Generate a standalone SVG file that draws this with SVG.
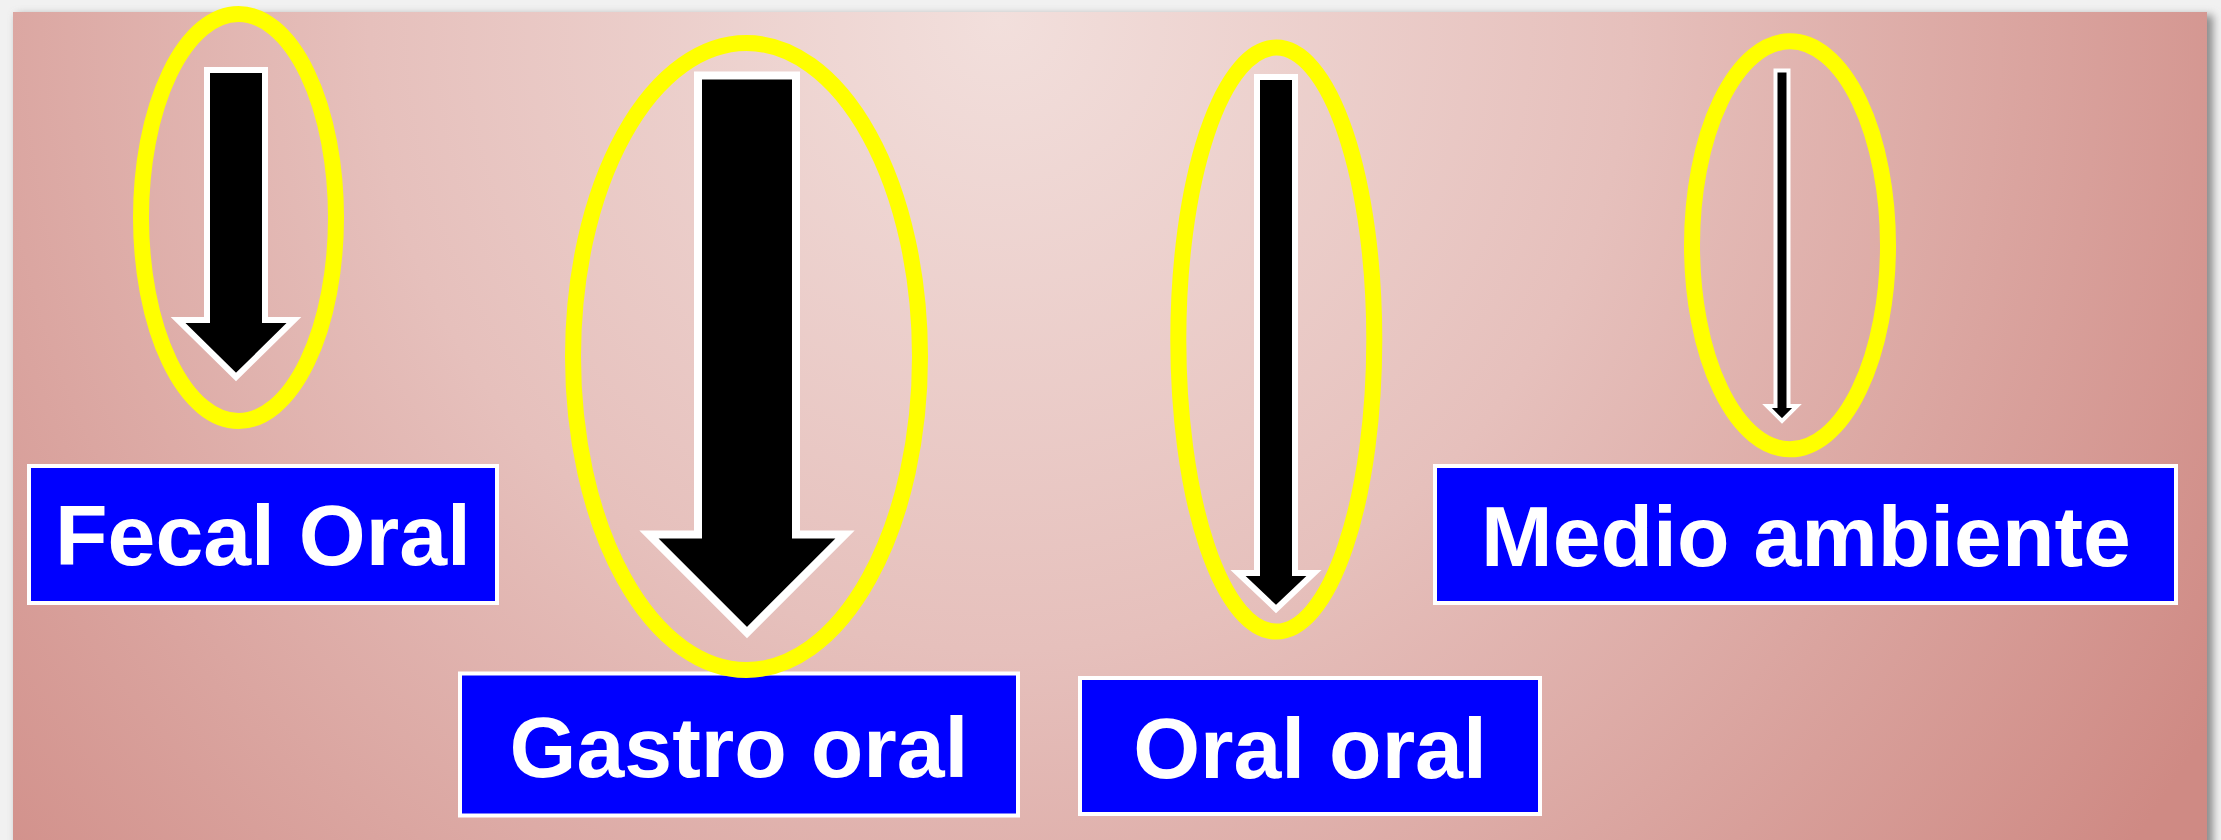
<svg xmlns="http://www.w3.org/2000/svg" width="2221" height="840" viewBox="0 0 2221 840">
  <defs>
    <radialGradient id="bg" gradientUnits="userSpaceOnUse" cx="1000" cy="20" r="1400">
      <stop offset="0" stop-color="#f2dfdc"/>
      <stop offset="0.45" stop-color="#e6c0bc"/>
      <stop offset="1" stop-color="#cf8a84"/>
    </radialGradient>
    <filter id="blur" x="-5%" y="-5%" width="110%" height="110%">
      <feGaussianBlur stdDeviation="4"/>
    </filter>
    <style>
      .ring { fill: none; stroke: #ffff00; stroke-width: 16; }
      .arrow { fill: #000000; stroke: #ffffff; stroke-linejoin: miter; stroke-miterlimit: 10; }
      .box { fill: #0000ff; stroke: #ffffff; stroke-width: 4; }
      .label { font-family: "Liberation Sans", Arial, sans-serif; font-weight: bold; font-size: 86px; fill: #ffffff; text-anchor: middle; }
    </style>
  </defs>

  <rect x="0" y="0" width="2221" height="840" fill="#f1f1f1"/>
  <rect x="17" y="15" width="2196" height="840" fill="#8a8a8a" filter="url(#blur)"/>
  <rect x="13" y="12" width="2194" height="840" fill="url(#bg)"/>

  <g id="fecal-oral-label">
    <rect class="box" x="29" y="466" width="468" height="137"/>
    <text class="label" x="263" y="565">Fecal Oral</text>
  </g>
  <g id="gastro-oral-label">
    <rect class="box" x="460" y="673.5" width="558" height="142"/>
    <text class="label" x="739" y="777">Gastro oral</text>
  </g>
  <g id="oral-oral-label">
    <rect class="box" x="1080" y="678" width="460" height="136"/>
    <text class="label" x="1310" y="778">Oral oral</text>
  </g>
  <g id="medio-ambiente-label">
    <rect class="box" x="1435" y="466" width="741" height="137"/>
    <text class="label" x="1806" y="566">Medio ambiente</text>
  </g>

  <g id="fecal-oral-marker">
    <ellipse class="ring" cx="238.5" cy="217.5" rx="97.5" ry="203.5"/>
    <polygon class="arrow" stroke-width="6" points="207,70 265,70 265,320 294,320 236,377 178,320 207,320"/>
  </g>
  <g id="gastro-oral-marker">
    <ellipse class="ring" cx="746.5" cy="356.5" rx="173.5" ry="313.5"/>
    <polygon class="arrow" stroke-width="8" points="698,75.5 796,75.5 796,534.5 845,534.5 747,632.5 649,534.5 698,534.5"/>
  </g>
  <g id="oral-oral-marker">
    <ellipse class="ring" cx="1276.3" cy="339.6" rx="98" ry="292"/>
    <polygon class="arrow" stroke-width="6" points="1257,77 1295,77 1295,573 1314,573 1276,609 1238,573 1257,573"/>
  </g>
  <g id="medio-ambiente-marker">
    <ellipse class="ring" cx="1790" cy="245.3" rx="98" ry="204"/>
    <polygon class="arrow" stroke-width="4" points="1775.5,70.5 1788.5,70.5 1788.5,406 1797,406 1782,421 1767,406 1775.5,406"/>
  </g>

  <g id="connectors"/>
</svg>
